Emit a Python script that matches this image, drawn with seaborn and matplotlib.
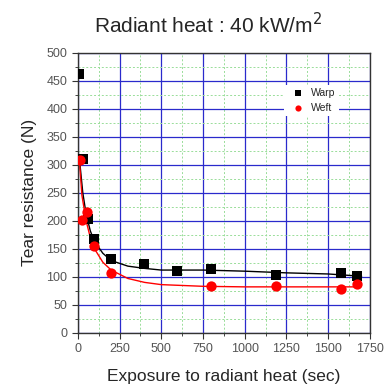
import numpy as np
import pandas as pd
import matplotlib
matplotlib.use("Agg")
import matplotlib.pyplot as plt
import seaborn as sns
from matplotlib.ticker import MultipleLocator

# measured points
warp_x = [5, 32, 60, 100, 200, 395, 595, 795, 1190, 1575, 1672]
warp_y = [462, 310, 203, 167, 131, 122, 110, 113, 103, 107, 102]
weft_x = [12, 24, 54, 100, 198, 795, 1190, 1575, 1672]
weft_y = [308, 201, 216, 155, 106, 83, 83, 78, 88]

# fitted curves
warp_fit_x = [10, 30, 50, 75, 100, 150, 200, 300, 400, 500, 750, 1000, 1250, 1500, 1700]
warp_fit_y = [310, 250, 212, 182, 163, 142, 129, 119, 115, 112, 112, 110, 107, 105, 101]
weft_fit_x = [10, 25, 50, 75, 100, 150, 200, 300, 400, 500, 750, 1000, 1500, 1665, 1675]
weft_fit_y = [305, 245, 200, 170, 150, 126, 112, 97, 90, 86, 83, 82, 82, 82, 88]

sns.set_style("white")
plt.rcParams["font.family"] = ["Liberation Sans", "DejaVu Sans"]

fig = plt.figure(figsize=(3.85, 3.87), dpi=100)
ax = fig.add_axes([0.202, 0.140, 0.759, 0.724])

# grid
ax.xaxis.set_major_locator(MultipleLocator(250))
ax.xaxis.set_minor_locator(MultipleLocator(125))
ax.yaxis.set_major_locator(MultipleLocator(50))
ax.yaxis.set_minor_locator(MultipleLocator(25))
ax.grid(which="major", color="#2a2acc", linewidth=0.9)
ax.grid(which="minor", color="#99dd99", linewidth=0.7, linestyle=(0, (2, 2)))
ax.set_axisbelow(True)

sns.lineplot(x=warp_fit_x, y=warp_fit_y, ax=ax, color="black", linewidth=1.0,
             sort=False, estimator=None)
sns.lineplot(x=weft_fit_x, y=weft_fit_y, ax=ax, color="red", linewidth=1.0,
             sort=False, estimator=None)
sns.scatterplot(x=warp_x, y=warp_y, ax=ax, marker="s", color="black", s=50,
                edgecolor="black", linewidth=0, label="Warp", zorder=5)
sns.scatterplot(x=weft_x, y=weft_y, ax=ax, marker="o", color="red", s=55,
                edgecolor="red", linewidth=0, label="Weft", zorder=5)

ax.set_xlim(0, 1750)
ax.set_ylim(0, 500)

for sp in ax.spines.values():
    sp.set_visible(True)
    sp.set_color("#333333")
    sp.set_linewidth(1.0)

ax.tick_params(which="major", direction="out", length=4, width=0.8,
               labelsize=9, colors="#333333", labelcolor="#555555",
               bottom=True, left=True)
ax.tick_params(which="minor", direction="out", length=2, width=0.6,
               bottom=True, left=True)

ax.set_xlabel("Exposure to radiant heat (sec)", fontsize=12.5, labelpad=10)
ax.set_ylabel("Tear resistance (N)", fontsize=12.5, labelpad=7)
fig.suptitle("Radiant heat : 40 kW/m$^2$", fontsize=15, x=0.54, y=0.97)

leg = ax.legend(loc="center", bbox_to_anchor=(0.80, 0.83), fontsize=7.5,
                frameon=True, framealpha=1, edgecolor="white",
                handletextpad=0.3, markerscale=0.6, borderpad=0.3)
leg.get_frame().set_linewidth(0)

fig.savefig("out.png", dpi=100)
